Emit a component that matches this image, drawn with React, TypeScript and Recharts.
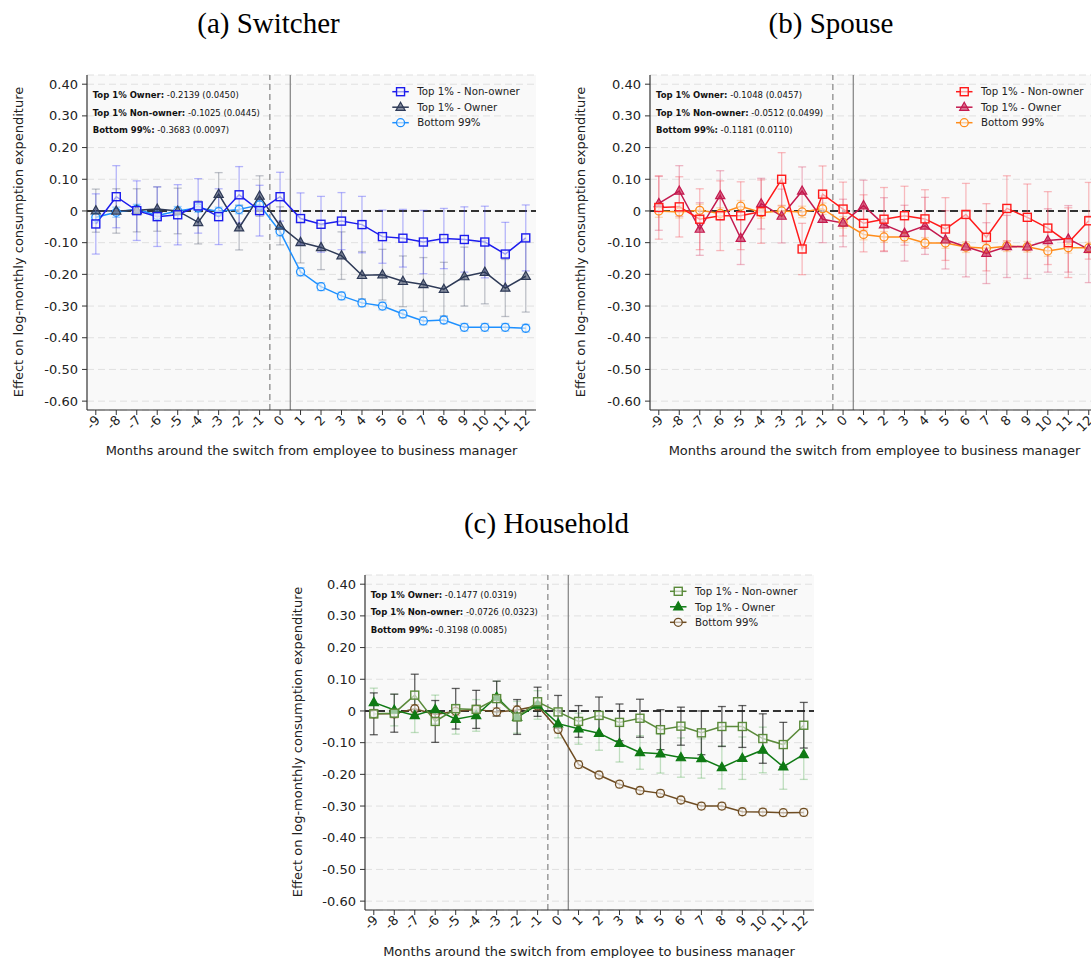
import React from 'react';
import { ComposedChart, Line, XAxis, YAxis, CartesianGrid, ReferenceLine, ErrorBar } from 'recharts';

const months = [-9, -8, -7, -6, -5, -4, -3, -2, -1, 0, 1, 2, 3, 4, 5, 6, 7, 8, 9, 10, 11, 12];
const yTicks = [0.4, 0.3, 0.2, 0.1, 0, -0.1, -0.2, -0.3, -0.4, -0.5, -0.6];

// (a) Switcher
const switcherNonOwner = [-0.041, 0.045, 0.001, -0.018, -0.012, 0.016, -0.018, 0.051, 0.001, 0.045, -0.024, -0.042, -0.032, -0.043, -0.081, -0.086, -0.098, -0.087, -0.090, -0.098, -0.136, -0.085];
const switcherNonOwnerErr = [0.095, 0.098, 0.094, 0.094, 0.095, 0.086, 0.088, 0.089, 0.080, 0.077, 0.081, 0.088, 0.090, 0.089, 0.084, 0.091, 0.100, 0.095, 0.103, 0.113, 0.100, 0.104];
const switcherOwner = [0.001, 0.000, 0.002, 0.006, 0.000, -0.036, 0.053, -0.053, 0.047, -0.047, -0.099, -0.115, -0.141, -0.203, -0.201, -0.222, -0.232, -0.247, -0.207, -0.193, -0.243, -0.206];
const switcherOwnerErr = [0.068, 0.070, 0.068, 0.070, 0.072, 0.068, 0.068, 0.070, 0.064, 0.060, 0.065, 0.070, 0.075, 0.075, 0.080, 0.080, 0.085, 0.085, 0.093, 0.100, 0.090, 0.113];
const switcherBottom = [-0.020, -0.004, 0.006, -0.014, 0.000, 0.010, -0.002, 0.005, 0.019, -0.065, -0.192, -0.239, -0.268, -0.290, -0.300, -0.325, -0.347, -0.344, -0.367, -0.367, -0.367, -0.370];
const switcherBottomErr = [0.018, 0.016, 0.015, 0.015, 0.014, 0.014, 0.014, 0.014, 0.015, 0.014, 0.013, 0.012, 0.012, 0.012, 0.012, 0.012, 0.012, 0.012, 0.012, 0.012, 0.012, 0.012];

// (b) Spouse
const spouseNonOwner = [0.011, 0.013, -0.026, -0.015, -0.015, -0.002, 0.100, -0.120, 0.053, 0.006, -0.039, -0.026, -0.015, -0.025, -0.057, -0.011, -0.083, 0.008, -0.020, -0.054, -0.100, -0.031];
const spouseNonOwnerErr = [0.100, 0.095, 0.096, 0.110, 0.107, 0.100, 0.084, 0.081, 0.089, 0.085, 0.090, 0.100, 0.093, 0.092, 0.099, 0.098, 0.106, 0.103, 0.105, 0.115, 0.110, 0.121];
const spouseOwner = [0.024, 0.063, -0.057, 0.049, -0.086, 0.023, -0.016, 0.063, -0.026, -0.038, 0.017, -0.043, -0.070, -0.047, -0.091, -0.113, -0.133, -0.112, -0.113, -0.093, -0.088, -0.121];
const spouseOwnerErr = [0.085, 0.080, 0.083, 0.078, 0.083, 0.080, 0.085, 0.076, 0.074, 0.075, 0.080, 0.085, 0.088, 0.090, 0.092, 0.095, 0.096, 0.098, 0.100, 0.100, 0.105, 0.105];
const spouseBottom = [0.000, -0.003, 0.002, -0.008, 0.015, -0.005, 0.000, -0.003, 0.007, -0.036, -0.074, -0.082, -0.082, -0.101, -0.101, -0.114, -0.118, -0.111, -0.113, -0.126, -0.116, -0.116];
const spouseBottomErr = [0.020, 0.019, 0.019, 0.018, 0.018, 0.018, 0.018, 0.018, 0.018, 0.018, 0.017, 0.017, 0.017, 0.017, 0.017, 0.017, 0.017, 0.017, 0.017, 0.017, 0.017, 0.017];

// (c) Household
const householdNonOwner = [-0.009, -0.007, 0.050, -0.033, 0.007, 0.005, 0.039, -0.019, 0.029, -0.003, -0.033, -0.014, -0.036, -0.023, -0.059, -0.048, -0.069, -0.049, -0.049, -0.087, -0.106, -0.045];
const householdNonOwnerErr = [0.066, 0.060, 0.066, 0.066, 0.064, 0.060, 0.055, 0.055, 0.046, 0.052, 0.050, 0.058, 0.058, 0.060, 0.063, 0.060, 0.069, 0.063, 0.066, 0.078, 0.070, 0.072];
const householdOwner = [0.027, 0.003, -0.014, 0.005, -0.026, -0.014, 0.044, -0.020, 0.019, -0.040, -0.056, -0.070, -0.102, -0.131, -0.135, -0.147, -0.150, -0.178, -0.149, -0.123, -0.176, -0.137];
const householdOwnerErr = [0.045, 0.050, 0.054, 0.045, 0.047, 0.050, 0.050, 0.050, 0.045, 0.045, 0.049, 0.054, 0.059, 0.053, 0.061, 0.062, 0.062, 0.068, 0.067, 0.072, 0.071, 0.079];
const householdBottom = [-0.009, -0.009, 0.007, -0.011, -0.001, 0.005, -0.003, 0.003, 0.016, -0.058, -0.169, -0.202, -0.231, -0.251, -0.260, -0.281, -0.300, -0.300, -0.318, -0.319, -0.321, -0.320];
const householdBottomErr = [0.014, 0.013, 0.013, 0.013, 0.013, 0.013, 0.013, 0.013, 0.013, 0.012, 0.012, 0.011, 0.011, 0.011, 0.011, 0.011, 0.011, 0.011, 0.011, 0.011, 0.011, 0.011];

const seriesNames = ['Top 1% - Non-owner', 'Top 1% - Owner', 'Bottom 99%'];
const annotationLabels = ['Top 1% Owner:', 'Top 1% Non-owner:', 'Bottom 99%:'];
const switcherAnnot = ['-0.2139 (0.0450)', '-0.1025 (0.0445)', '-0.3683 (0.0097)'];
const spouseAnnot = ['-0.1048 (0.0457)', '-0.0512 (0.0499)', '-0.1181 (0.0110)'];
const householdAnnot = ['-0.1477 (0.0319)', '-0.0726 (0.0323)', '-0.3198 (0.0085)'];

const FONT = '"DejaVu Sans", Verdana, sans-serif';
const SERIF = '"Liberation Serif", "Times New Roman", serif';
const X_LABEL = 'Months around the switch from employee to business manager';
const Y_LABEL = 'Effect on log-monthly consumption expenditure';

type Colors = {
  no: string; ow: string; bt: string;
  noE: string; owE: string; btE: string;
  owFill: string;
};

const buildRows = (no: number[], noE: number[], ow: number[], owE: number[], bt: number[], btE: number[]) =>
  months.map((m, i) => ({ m, no: no[i], noE: noE[i], ow: ow[i], owE: owE[i], bt: bt[i], btE: btE[i] }));

const fmtY = (v: number) => (Math.abs(v) < 1e-9 ? '0' : v.toFixed(2));

const XTick = (props: any) => {
  const { x, y, payload } = props;
  const ax = x + 5;
  const ay = y + 4;
  return (
    <text x={ax} y={ay} transform={`rotate(-45 ${ax} ${ay})`} textAnchor="end" fontSize={13} fill="#222" fontFamily={FONT}>
      {String(payload.value)}
    </text>
  );
};

const markerShape = (shape: string, cx: number, cy: number, stroke: string, fill: string, key?: any) => {
  if (shape === 'square') {
    return <rect key={key} x={cx - 4} y={cy - 4} width={8} height={8} fill={fill} stroke={stroke} strokeWidth={1.4} />;
  }
  if (shape === 'triangle') {
    return <path key={key} d={`M${cx},${cy - 5} L${cx + 4.6},${cy + 3.2} L${cx - 4.6},${cy + 3.2} Z`} fill={fill} stroke={stroke} strokeWidth={1.2} />;
  }
  return <circle key={key} cx={cx} cy={cy} r={4} fill={fill} stroke={stroke} strokeWidth={1.3} />;
};

const makeDot = (shape: string, stroke: string, fill: string) => (p: any) => {
  const { cx, cy, index } = p;
  if (cx == null || cy == null) return <g key={`e${index}`} />;
  return markerShape(shape, cx, cy, stroke, fill, `d${index}`);
};

type PanelProps = { left: number; top: number; rows: any[]; c: Colors };

function Panel({ left, top, rows, c }: PanelProps) {
  return (
    <div style={{ position: 'absolute', left, top }}>
      <ComposedChart width={560} height={470} data={rows} margin={{ top: 75, right: 24, bottom: 0, left: 0 }}>
        <CartesianGrid vertical={false} fill="#f9f9f9" stroke="#e0e0e0" strokeDasharray="7 4" />
        <XAxis
          dataKey="m"
          type="number"
          domain={[-9.43, 12.5]}
          ticks={months}
          interval={0}
          allowDataOverflow
          height={60}
          tickSize={5}
          tickMargin={2}
          tick={XTick}
          axisLine={{ stroke: '#333', strokeWidth: 1.2 }}
          tickLine={{ stroke: '#333' }}
        />
        <YAxis
          type="number"
          domain={[-0.628, 0.429]}
          ticks={yTicks}
          interval={0}
          allowDataOverflow
          width={87}
          tickSize={5}
          tickMargin={4}
          tickFormatter={fmtY}
          tick={{ fontSize: 13, fill: '#222', fontFamily: FONT }}
          axisLine={{ stroke: '#333', strokeWidth: 1.2 }}
          tickLine={{ stroke: '#333' }}
        />
        <ReferenceLine x={-0.5} stroke="#9a9a9a" strokeDasharray="6 4" strokeWidth={1.5} />
        <ReferenceLine x={0.5} stroke="#8a8a8a" strokeWidth={1.3} />
        <ReferenceLine y={0} stroke="#333" strokeDasharray="8 4" strokeWidth={2} />
        <Line dataKey="bt" stroke="none" dot={false} activeDot={false} isAnimationActive={false}>
          <ErrorBar dataKey="btE" width={4} stroke={c.btE} strokeWidth={1.3} direction="y" />
        </Line>
        <Line dataKey="ow" stroke="none" dot={false} activeDot={false} isAnimationActive={false}>
          <ErrorBar dataKey="owE" width={4} stroke={c.owE} strokeWidth={1.3} direction="y" />
        </Line>
        <Line dataKey="no" stroke="none" dot={false} activeDot={false} isAnimationActive={false}>
          <ErrorBar dataKey="noE" width={4} stroke={c.noE} strokeWidth={1.3} direction="y" />
        </Line>
        <Line type="linear" dataKey="bt" stroke={c.bt} strokeWidth={1.5} dot={makeDot('circle', c.bt, 'rgba(249,249,249,0.6)')} activeDot={false} isAnimationActive={false} />
        <Line type="linear" dataKey="ow" stroke={c.ow} strokeWidth={1.5} dot={makeDot('triangle', c.ow, c.owFill)} activeDot={false} isAnimationActive={false} />
        <Line type="linear" dataKey="no" stroke={c.no} strokeWidth={1.5} dot={makeDot('square', c.no, 'rgba(249,249,249,0.6)')} activeDot={false} isAnimationActive={false} />
      </ComposedChart>
    </div>
  );
}

type OverlayProps = {
  title: string; titleX: number; titleY: number;
  xLabelX: number; xLabelY: number;
  yLabelX: number; yLabelY: number;
  annX: number; annY: number; annVals: string[];
  legX: number; legY: number; c: Colors;
};

function Overlay(o: OverlayProps) {
  const shapes = ['square', 'triangle', 'circle'];
  const colors = [o.c.no, o.c.ow, o.c.bt];
  const fills = ['rgba(249,249,249,0.6)', o.c.owFill, 'rgba(249,249,249,0.6)'];
  return (
    <g>
      <text x={o.titleX} y={o.titleY} textAnchor="middle" fontFamily={SERIF} fontSize={29} fill="#000">{o.title}</text>
      <text x={o.xLabelX} y={o.xLabelY} textAnchor="middle" fontFamily={FONT} fontSize={13} fill="#222">{X_LABEL}</text>
      <text x={o.yLabelX} y={o.yLabelY} textAnchor="middle" fontFamily={FONT} fontSize={13} fill="#222" transform={`rotate(-90 ${o.yLabelX} ${o.yLabelY})`}>{Y_LABEL}</text>
      {annotationLabels.map((lab, i) => (
        <text key={lab} x={o.annX} y={o.annY + i * 17.5} fontFamily={FONT} fontSize={8.5} fill="#111">
          <tspan fontWeight="bold">{lab}</tspan>
          <tspan>{' ' + o.annVals[i]}</tspan>
        </text>
      ))}
      {seriesNames.map((name, i) => {
        const cy = o.legY + i * 15.5;
        return (
          <g key={name}>
            <line x1={o.legX} x2={o.legX + 16.5} y1={cy} y2={cy} stroke={colors[i]} strokeWidth={1.5} />
            {markerShape(shapes[i], o.legX + 8.25, cy, colors[i], fills[i])}
            <text x={o.legX + 25} y={cy + 3.7} fontFamily={FONT} fontSize={10.2} fill="#222">{name}</text>
          </g>
        );
      })}
    </g>
  );
}

const colorsA: Colors = {
  no: '#1c1ced', ow: '#2e3a57', bt: '#1e90ff',
  noE: 'rgba(70,70,250,0.38)', owE: 'rgba(80,90,110,0.35)', btE: 'rgba(30,144,255,0.4)',
  owFill: 'rgba(46,58,87,0.55)',
};
const colorsB: Colors = {
  no: '#ff1a1a', ow: '#c41a4f', bt: '#ff8c1a',
  noE: 'rgba(245,90,100,0.4)', owE: 'rgba(215,60,100,0.35)', btE: 'rgba(255,170,80,0.4)',
  owFill: 'rgba(196,26,79,0.6)',
};
const colorsC: Colors = {
  no: '#5a8a3a', ow: '#0f7a14', bt: '#6e4c22',
  noE: 'rgba(30,30,30,0.7)', owE: 'rgba(80,170,80,0.35)', btE: 'rgba(170,140,90,0.45)',
  owFill: '#0f7a14',
};

const rowsA = buildRows(switcherNonOwner, switcherNonOwnerErr, switcherOwner, switcherOwnerErr, switcherBottom, switcherBottomErr);
const rowsB = buildRows(spouseNonOwner, spouseNonOwnerErr, spouseOwner, spouseOwnerErr, spouseBottom, spouseBottomErr);
const rowsC = buildRows(householdNonOwner, householdNonOwnerErr, householdOwner, householdOwnerErr, householdBottom, householdBottomErr);

export default function App() {
  return (
    <div style={{ position: 'absolute', left: 0, top: 0, width: 1091, height: 958, overflow: 'hidden', background: '#fff' }}>
      <Panel left={0} top={0} rows={rowsA} c={colorsA} />
      <Panel left={563} top={0} rows={rowsB} c={colorsB} />
      <Panel left={277.5} top={500} rows={rowsC} c={colorsC} />
      <svg width={1091} height={958} style={{ position: 'absolute', left: 0, top: 0, pointerEvents: 'none' }}>
        <Overlay title="(a) Switcher" titleX={268.5} titleY={33} xLabelX={311.5} xLabelY={455} yLabelX={22.5} yLabelY={242}
          annX={92.7} annY={98} annVals={switcherAnnot} legX={392.3} legY={91.7} c={colorsA} />
        <Overlay title="(b) Spouse" titleX={831} titleY={33} xLabelX={874.5} xLabelY={455} yLabelX={585} yLabelY={242}
          annX={656} annY={98} annVals={spouseAnnot} legX={956} legY={91.7} c={colorsB} />
        <Overlay title="(c) Household" titleX={546.5} titleY={533} xLabelX={589} xLabelY={956} yLabelX={302} yLabelY={742}
          annX={370.7} annY={597.5} annVals={householdAnnot} legX={670} legY={591.3} c={colorsC} />
      </svg>
    </div>
  );
}
